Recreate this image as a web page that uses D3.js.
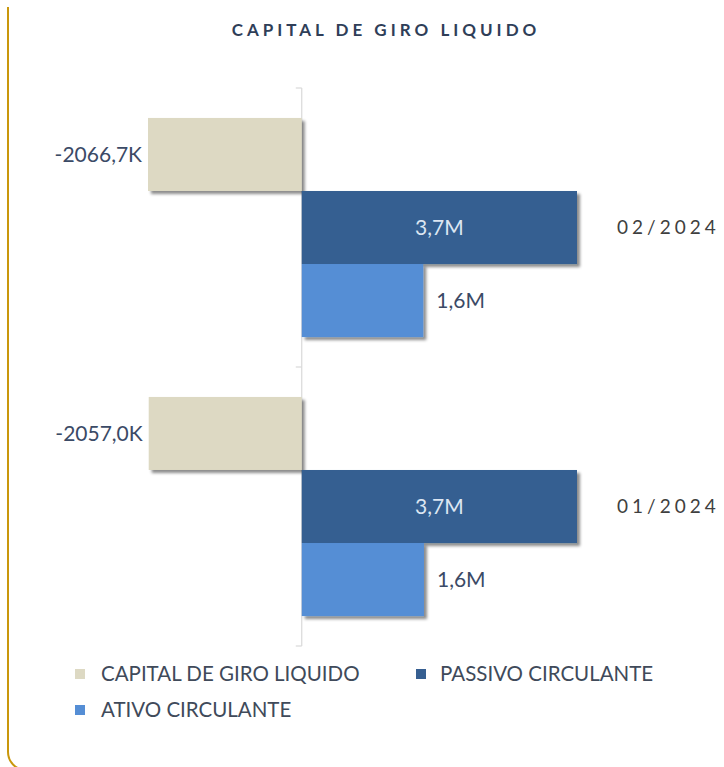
<!DOCTYPE html>
<html>
<head>
<meta charset="utf-8">
<script src="https://cdn.jsdelivr.net/npm/d3@7"></script>
<style>
  html, body { margin: 0; padding: 0; background: #fff; }
  svg { display: block; }
</style>
</head>
<body>
<svg id="chart" width="724" height="767"></svg>
<script>
const categorias = ['02/2024', '01/2024']
const series = ['CAPITAL DE GIRO LIQUIDO', 'PASSIVO CIRCULANTE', 'ATIVO CIRCULANTE']
const capital = [-2066.7, -2057.0]   // em milhares
const passivo = [3700, 3700]
const ativo = [1633.3, 1643.0]
const rotulos = [['-2066,7K', '3,7M', '1,6M'], ['-2057,0K', '3,7M', '1,6M']]
const cores = ['#ddd9c3', '#365f91', '#558ed5']

const svg = d3.select('#chart')

// sombra das barras
svg.append('defs').append('filter')
  .attr('id', 'sombra').attr('x', '-10%').attr('y', '-10%').attr('width', '130%').attr('height', '140%')
  .append('feDropShadow')
  .attr('dx', 3).attr('dy', 3).attr('stdDeviation', 1.8)
  .attr('flood-color', '#000').attr('flood-opacity', 0.45)

// moldura dourada
const moldura = d3.path()
moldura.moveTo(8, 7)
moldura.lineTo(8, 752)
moldura.arcTo(8, 770, 26, 770, 18)
svg.append('path').attr('d', moldura.toString())
  .attr('fill', 'none').attr('stroke', '#c9970c').attr('stroke-width', 2)

const fonte = 'Lato, "Open Sans", sans-serif'

svg.append('text')
  .attr('x', 386).attr('y', 36)
  .attr('text-anchor', 'middle')
  .style('font-family', fonte)
  .style('font-weight', 'bold')
  .style('font-size', '17px')
  .style('letter-spacing', '4px')
  .attr('fill', '#2f3e58')
  .text('CAPITAL DE GIRO LIQUIDO')

const data = categorias.map((c, i) => ({
  cat: c,
  valores: [capital[i], passivo[i], ativo[i]],
  rotulos: rotulos[i]
}))

const y = d3.scaleBand().domain(categorias).range([88, 646]).padding(0)
const ySub = d3.scaleBand().domain(series).range([0, y.bandwidth()]).paddingInner(0).paddingOuter(0.41)
const x = d3.scaleLinear().domain([-2066.7, 3700]).range([148, 577])

// eixo
const eixo = svg.append('g').attr('transform', `translate(${x(0)},0)`)
eixo.append('line').attr('y1', y.range()[0]).attr('y2', y.range()[1])
  .attr('stroke', '#d9d9d9').attr('stroke-width', 1.2)
const limites = categorias.map(c => y(c)).concat([y.range()[1]])
eixo.selectAll('.tick').data(limites).join('line')
  .attr('class', 'tick')
  .attr('x1', -6).attr('x2', 0)
  .attr('y1', d => d).attr('y2', d => d)
  .attr('stroke', '#d9d9d9').attr('stroke-width', 1.2)

const grupos = svg.selectAll('.grupo').data(data).join('g')
  .attr('class', 'grupo')
  .attr('transform', d => `translate(0,${y(d.cat)})`)

grupos.selectAll('rect')
  .data(d => d.valores.map((v, j) => ({ serie: series[j], v, j })))
  .join('rect')
  .attr('x', d => x(Math.min(0, d.v)))
  .attr('y', d => ySub(d.serie))
  .attr('width', d => Math.abs(x(d.v) - x(0)))
  .attr('height', ySub.bandwidth())
  .attr('fill', d => cores[d.j])
  .attr('filter', 'url(#sombra)')

grupos.selectAll('.rotulo')
  .data(d => d.valores.map((v, j) => ({ serie: series[j], v, j, txt: d.rotulos[j] })))
  .join('text')
  .attr('class', 'rotulo')
  .attr('x', d => d.j === 0 ? x(d.v) - 6 : d.j === 1 ? (x(0) + x(d.v)) / 2 : x(d.v) + 13)
  .attr('y', d => ySub(d.serie) + ySub.bandwidth() / 2)
  .attr('dy', '0.35em')
  .attr('text-anchor', d => d.j === 0 ? 'end' : d.j === 1 ? 'middle' : 'start')
  .style('font-family', fonte)
  .style('font-size', '21px')
  .attr('fill', d => d.j === 1 ? '#dce6f2' : '#3b4a66')
  .text(d => d.txt)

grupos.append('text')
  .attr('x', 617)
  .attr('y', y.bandwidth() / 2)
  .attr('dy', '0.35em')
  .style('font-family', fonte)
  .style('font-size', '19px')
  .style('letter-spacing', '4px')
  .attr('fill', '#3f3f3f')
  .text(d => d.cat)

// legenda
const legPos = [[75, 674], [416, 674], [75, 710]]
const leg = svg.selectAll('.leg').data(series).join('g')
  .attr('class', 'leg')
  .attr('transform', (d, i) => `translate(${legPos[i][0]},${legPos[i][1]})`)
leg.append('rect').attr('x', 0).attr('y', -5).attr('width', 10).attr('height', 10)
  .attr('fill', (d, i) => cores[i])
leg.append('text').attr('x', (d, i) => i === 1 ? 24 : 26).attr('dy', '0.35em')
  .style('font-family', fonte)
  .style('font-size', '20.5px')
  .attr('fill', '#404a5a')
  .text(d => d)
</script>
</body>
</html>
